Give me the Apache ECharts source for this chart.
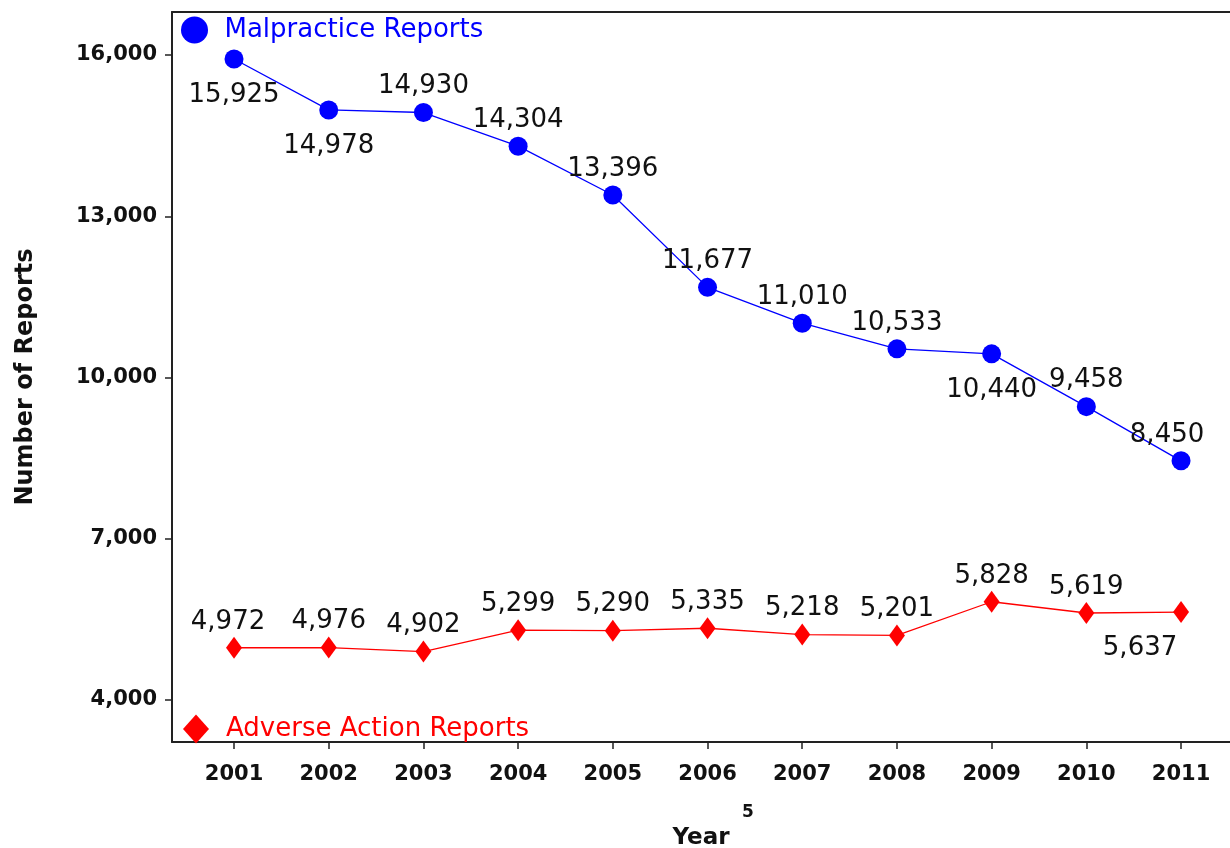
<!DOCTYPE html>
<html>
<head>
<meta charset="utf-8">
<script src="https://cdn.jsdelivr.net/npm/echarts@6/dist/echarts.min.js"></script>
<style>
html,body{margin:0;padding:0;background:#fff;}
#chart{width:1230px;height:848px;}
</style>
</head>
<body>
<div id="chart"></div>
<script>
const years = [2001, 2002, 2003, 2004, 2005, 2006, 2007, 2008, 2009, 2010, 2011];
const malpractice = [15925, 14978, 14930, 14304, 13396, 11677, 11010, 10533, 10440, 9458, 8450];
const adverse = [4972, 4976, 4902, 5299, 5290, 5335, 5218, 5201, 5828, 5619, 5637];
const yTickValues = [4000, 7000, 10000, 13000, 16000];

const FONT = 'DejaVu Sans';
function fmt(n) {
  return String(n).replace(/\B(?=(\d{3})+(?!\d))/g, ',');
}

// label placement (style, not data)
const malBelowYears = [2001, 2002, 2009];
const malShift = {2011: -14};
const advBelowYears = [2011];
const advShift = {2001: -6, 2011: -41};

function buildData(vals, belowYears, shift, symH) {
  return years.map((y, i) => {
    const below = belowYears.indexOf(y) >= 0;
    return {
      value: [y, vals[i]],
      label: {
        position: below ? 'bottom' : 'top',
        distance: below ? (23 - symH / 2) : (13 - symH / 2),
        offset: [shift[y] || 0, 0]
      }
    };
  });
}

const labelStyle = {
  show: true,
  fontFamily: FONT,
  fontSize: 26,
  color: '#111',
  formatter: p => fmt(p.value[1])
};

const chart = echarts.init(document.getElementById('chart'), null, {renderer: 'canvas'});
chart.setOption({
  animation: false,
  backgroundColor: '#fff',
  grid: {left: 172, right: 0, top: 12, bottom: 106, containLabel: false, outerBoundsMode: 'none'},
  legend: [
    {
      data: [{name: 'Malpractice Reports', textStyle: {color: '#0000ff'}}],
      icon: 'circle',
      itemWidth: 28, itemHeight: 27,
      left: 181, top: 16.5,
      padding: 0,
      selectedMode: false,
      textStyle: {fontFamily: FONT, fontSize: 26, padding: [0, 0, 0, 11]}
    },
    {
      data: [{name: 'Adverse Action Reports', textStyle: {color: '#ff0000'}}],
      icon: 'diamond',
      itemWidth: 26, itemHeight: 29,
      left: 183, top: 714.5,
      padding: 0,
      selectedMode: false,
      textStyle: {fontFamily: FONT, fontSize: 26, padding: [0, 0, 0, 12]}
    }
  ],
  xAxis: [
    {
      type: 'value',
      min: 2000.345, max: 2011.517,
      name: 'Year',
      nameLocation: 'middle',
      nameGap: 85,
      nameTextStyle: {fontFamily: FONT, fontSize: 23, fontWeight: 'bold', color: '#111'},
      axisLine: {show: true, lineStyle: {color: '#222', width: 2}},
      axisTick: {show: true, length: 7, inside: false, customValues: years, lineStyle: {color: '#222', width: 1.5}},
      axisLabel: {
        show: true, customValues: years, margin: 22,
        fontFamily: FONT, fontSize: 21, fontWeight: 'bold', color: '#111',
        formatter: v => String(Math.round(v))
      },
      splitLine: {show: false}
    },
    {
      type: 'value',
      position: 'top',
      min: 2000.345, max: 2011.517,
      axisLine: {show: true, lineStyle: {color: '#222', width: 2}},
      axisTick: {show: false},
      axisLabel: {show: false},
      splitLine: {show: false}
    }
  ],
  yAxis: {
    type: 'value',
    min: 3219, max: 16800,
    name: 'Number of Reports',
    nameLocation: 'middle',
    nameGap: 134,
    nameTextStyle: {fontFamily: FONT, fontSize: 24, fontWeight: 'bold', color: '#111'},
    axisLine: {show: true, lineStyle: {color: '#222', width: 2}},
    axisTick: {show: true, length: 7, inside: false, customValues: yTickValues, lineStyle: {color: '#222', width: 1.5}},
    axisLabel: {
      show: true, customValues: yTickValues, margin: 15,
      fontFamily: FONT, fontSize: 21, fontWeight: 'bold', color: '#111',
      formatter: v => fmt(v)
    },
    splitLine: {show: false}
  },
  graphic: [
    {
      type: 'text',
      left: 742, top: 804,
      style: {text: '5', fontFamily: FONT, fontSize: 17, fontWeight: 'bold', fill: '#111'}
    }
  ],
  series: [
    {
      name: 'Malpractice Reports',
      type: 'line',
      xAxisIndex: 0,
      symbol: 'circle',
      symbolSize: 19,
      itemStyle: {color: '#0000ff'},
      lineStyle: {color: '#0000ff', width: 1.3},
      label: labelStyle,
      data: buildData(malpractice, malBelowYears, malShift, 19)
    },
    {
      name: 'Adverse Action Reports',
      type: 'line',
      xAxisIndex: 0,
      symbol: 'diamond',
      symbolSize: [16, 22],
      itemStyle: {color: '#ff0000'},
      lineStyle: {color: '#ff0000', width: 1.3},
      label: labelStyle,
      data: buildData(adverse, advBelowYears, advShift, 22)
    }
  ]
});
</script>
</body>
</html>
